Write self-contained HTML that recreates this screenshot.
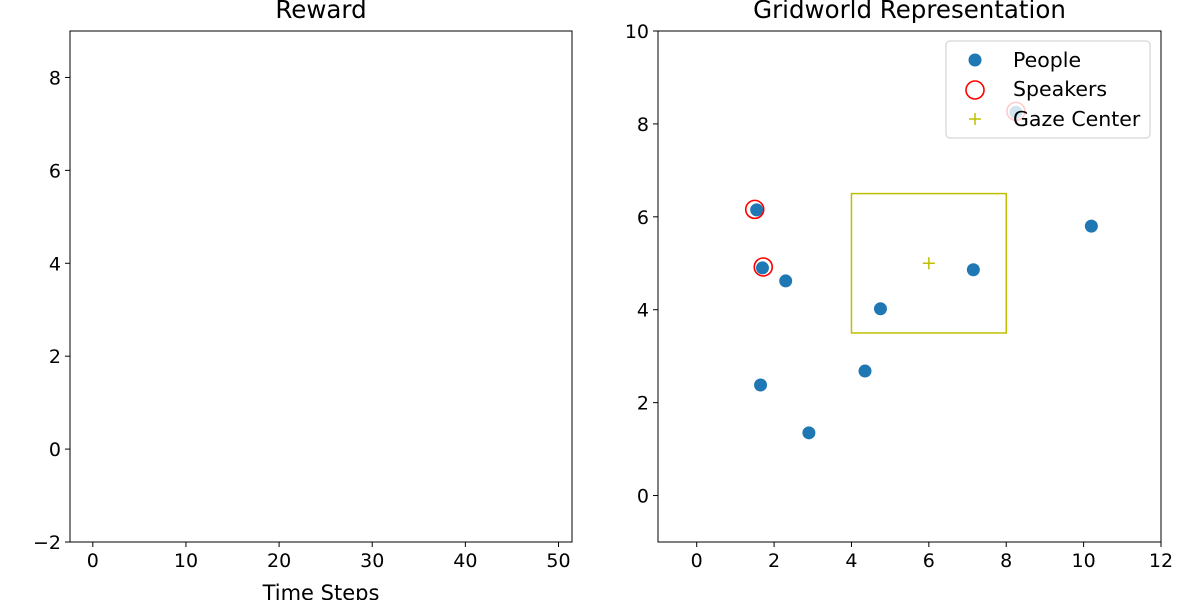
<!DOCTYPE html>
<html><head><meta charset="utf-8"><style>
body{margin:0;background:#fff}
svg{display:block;font-family:"DejaVu Sans","Liberation Sans",sans-serif}
</style></head><body>
<svg id="c" width="1200" height="600" viewBox="0 0 1200 600"></svg>
<script>
const rewardXTicks=[0,10,20,30,40,50];
const rewardYTicks=[-2,0,2,4,6,8];
const gridXTicks=[0,2,4,6,8,10,12];
const gridYTicks=[0,2,4,6,8,10];
const peopleX=[1.55,1.7,2.3,1.65,2.9,4.35,4.75,7.15,10.2,8.25];
const peopleY=[6.15,4.9,4.62,2.38,1.35,2.68,4.02,4.86,5.8,8.25];
const speakerX=[1.5,1.72,8.25];
const speakerY=[6.16,4.92,8.27];
const gazeX=[6];
const gazeY=[5];
const gazeBox=[4,3.5,8,6.5];

const NS="http://www.w3.org/2000/svg";
const svg=document.getElementById('c');
function mk(t,a,p){const e=document.createElementNS(NS,t);for(const k in a)e.setAttribute(k,a[k]);(p||svg).appendChild(e);return e;}
function axes(name,L,T,R,B,xmin,xmax,ymin,ymax){
  const g=mk('g',{});
  
  
  return {g,x:v=>L+(v-xmin)/(xmax-xmin)*(R-L),y:v=>B-(v-ymin)/(ymax-ymin)*(B-T),L,T,R,B};
}
function frame(a,xt,yt,title,xlabel){
  const f=mk('rect',{x:a.L,y:a.T,width:a.R-a.L,height:a.B-a.T,fill:'none',stroke:'#000','stroke-width':1},a.g);
  
  xt.forEach(v=>{const x=a.x(v);mk('line',{x1:x,x2:x,y1:a.B,y2:a.B+5,stroke:'#000'},a.g);
    const t=mk('text',{x:x,y:a.B+25,'text-anchor':'middle','font-size':19},a.g);t.textContent=v<0?'\u2212'+(-v):v;
    });
  yt.forEach(v=>{const y=a.y(v);mk('line',{x1:a.L-5,x2:a.L,y1:y,y2:y,stroke:'#000'},a.g);
    const t=mk('text',{x:a.L-9,y:y+7,'text-anchor':'end','font-size':19},a.g);t.textContent=v<0?'\u2212'+(-v):v;
    });
  const tt=mk('text',{x:(a.L+a.R)/2,y:18,'text-anchor':'middle','font-size':24.5},a.g);tt.textContent=title;
  
  if(xlabel){const xl=mk('text',{x:(a.L+a.R)/2,y:a.B+58,'text-anchor':'middle','font-size':21},a.g);xl.textContent=xlabel;
    }
}
const A=axes('reward-axes',70,31,572,542,-2.45,51.45,-2,9);
frame(A,rewardXTicks,rewardYTicks,'Reward','Time Steps');
const B=axes('gridworld-axes',658,31,1161,542,-1,12,-1,10);
frame(B,gridXTicks,gridYTicks,'Gridworld Representation',null);
const r=mk('rect',{x:B.x(gazeBox[0]),y:B.y(gazeBox[3]),width:B.x(gazeBox[2])-B.x(gazeBox[0]),height:B.y(gazeBox[1])-B.y(gazeBox[3]),fill:'none',stroke:'#bfbf00','stroke-width':1.5},B.g);

peopleX.forEach((v,i)=>{const c=mk('circle',{cx:B.x(v),cy:B.y(peopleY[i]),r:6.5,fill:'#1f77b4'},B.g);
  });
speakerX.forEach((v,i)=>{const c=mk('circle',{cx:B.x(v),cy:B.y(speakerY[i]),r:9,fill:'none',stroke:'#ff0000','stroke-width':1.6},B.g);
  });
gazeX.forEach((v,i)=>{const x=B.x(v),y=B.y(gazeY[i]);const p=mk('path',{d:`M${x-6},${y}H${x+6}M${x},${y-6}V${y+6}`,stroke:'#bfbf00','stroke-width':1.5},B.g);
  });
// legend
const lg=mk('g',{});


mk('rect',{x:946,y:41,width:204,height:97,rx:4,fill:'rgba(255,255,255,0.8)',stroke:'#ccc'},lg);
mk('circle',{cx:975,cy:60,r:6.5,fill:'#1f77b4'},lg);
mk('circle',{cx:975,cy:90,r:9,fill:'none',stroke:'#ff0000','stroke-width':1.6},lg);
mk('path',{d:'M969,119H981M975,113V125',stroke:'#bfbf00','stroke-width':1.5},lg);
[['People',67],['Speakers',96],['Gaze Center',126]].forEach(([s,y])=>{const t=mk('text',{x:1013,y:y,'font-size':20.5},lg);t.textContent=s;
  });
</script>
</body></html>
